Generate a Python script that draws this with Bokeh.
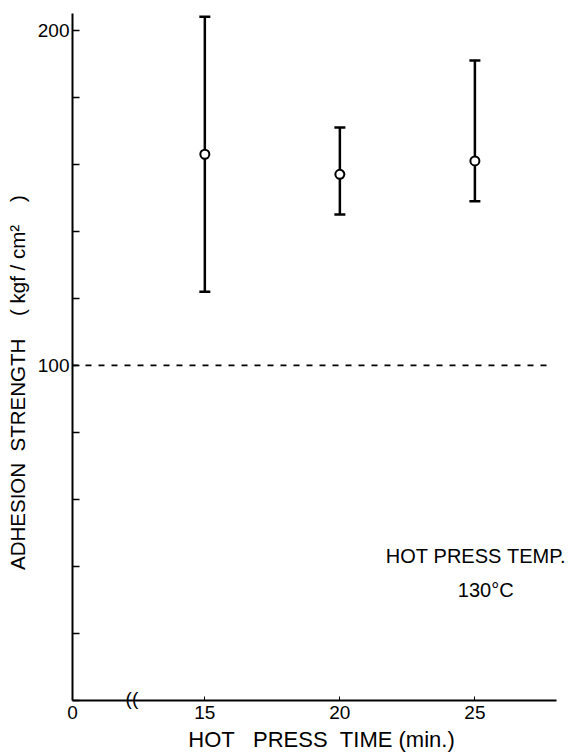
from bokeh.plotting import figure
from bokeh.models import (ColumnDataSource, Whisker, TeeHead, Label,
                          FixedTicker, Range1d, LinearAxis)
from bokeh.embed import file_html
from bokeh.resources import INLINE

# Adhesion strength vs. hot press time (mean with min/max range)
press_time = [15, 20, 25]
strength_mean = [163, 157, 161]
strength_upper = [204, 171, 191]
strength_lower = [122, 145, 149]

y_ticks = [0, 20, 40, 60, 80, 100, 120, 140, 160, 180, 200]
y_tick_labels = {100: "100", 200: "200"}
x_ticks = [15, 20, 25]
reference_level = 100

FONT = "Liberation Sans"
NB = "\u00a0"

x_start, x_end = 10.1, 28.54      # plotted x window (min)
x_axis_end = 28.04                # where the time axis line stops
x_break = 12.3                    # axis break mark position
dash_end = 27.7                   # end of the dashed 100 level line

p = figure(width=570, height=756,
           x_range=Range1d(x_start, x_end), y_range=Range1d(0, 205),
           output_backend="svg", toolbar_location=None,
           min_border_left=72, min_border_right=0,
           min_border_top=13, min_border_bottom=56)

p.outline_line_color = None
p.xgrid.visible = False
p.ygrid.visible = False
p.background_fill_color = "white"
p.border_fill_color = "white"

# y axis: ticks pointing inward, only 100 and 200 labelled
yax = p.yaxis[0]
yax.ticker = FixedTicker(ticks=y_ticks)
yax.major_label_overrides = {t: y_tick_labels.get(t, "") for t in y_ticks}
yax.minor_tick_line_color = None
yax.major_tick_in = 7
yax.major_tick_out = 0
yax.major_tick_line_width = 1.5
yax.axis_line_width = 2
yax.axis_line_color = "black"
yax.major_label_standoff = 3
yax.major_label_text_font = FONT
yax.major_label_text_font_size = "19px"
yax.major_label_text_color = "black"
yax.axis_label = ("ADHESION" + NB * 2 + "STRENGTH" + NB * 4 + "(" + NB +
                  "kgf" + NB + "/" + NB + "cm²" + NB * 4 + ")" + NB * 9)
yax.axis_label_text_font = FONT
yax.axis_label_text_font_size = "20.5px"
yax.axis_label_text_font_style = "normal"
yax.axis_label_text_color = "black"
yax.axis_label_standoff = 6

# x axis: origin shown as "0" at the corner, then 15 / 20 / 25 min
xax = p.xaxis[0]
xax.bounds = (x_start, x_axis_end)
xax.ticker = FixedTicker(ticks=[x_start] + x_ticks)
xax.major_label_overrides = {x_start: "0"}
xax.minor_tick_line_color = None
xax.major_tick_in = 4
xax.major_tick_out = 0
xax.axis_line_width = 2
xax.axis_line_color = "black"
xax.major_label_standoff = 5
xax.major_label_text_font = FONT
xax.major_label_text_font_size = "19px"
xax.major_label_text_color = "black"
xax.axis_label = "HOT" + NB * 3 + "PRESS" + NB * 2 + "TIME" + NB + "(min.)"
xax.axis_label_text_font = FONT
xax.axis_label_text_font_size = "22px"
xax.axis_label_text_font_style = "normal"
xax.axis_label_text_color = "black"
xax.axis_label_standoff = 5

# axis break mark "((" drawn back up onto the time axis line
brk = LinearAxis(ticker=FixedTicker(ticks=[x_break]),
                 major_label_overrides={x_break: "(("},
                 axis_line_color=None, major_tick_line_color=None,
                 minor_tick_line_color=None, major_tick_in=0, major_tick_out=0,
                 major_label_standoff=-67,
                 major_label_text_font=FONT, major_label_text_font_size="19px",
                 major_label_text_color="black")
if hasattr(brk, "major_label_background_fill_color"):
    brk.major_label_background_fill_color = "white"
p.add_layout(brk, "below")

# dashed 100 kgf/cm² level
p.line(x=[x_start, dash_end], y=[reference_level, reference_level],
       line_color="black", line_width=1.6, line_dash="6 7")

# error bars and mean markers
src = ColumnDataSource(dict(x=press_time, mean=strength_mean,
                            upper=strength_upper, lower=strength_lower))
whisk = Whisker(base="x", upper="upper", lower="lower", source=src,
                line_color="black", line_width=2.5,
                upper_head=TeeHead(size=11, line_width=2.5, line_color="black"),
                lower_head=TeeHead(size=11, line_width=2.5, line_color="black"),
                level="underlay")
p.add_layout(whisk)
p.scatter("x", "mean", source=src, marker="circle", size=9,
          fill_color="white", line_color="black", line_width=2)

# condition note
p.add_layout(Label(x=21.7, y=43, text="HOT" + NB + "PRESS" + NB + "TEMP.",
                   text_align="left", text_baseline="middle",
                   text_font=FONT, text_font_size="20px", text_color="black"))
p.add_layout(Label(x=25.4, y=33, text="130°C",
                   text_align="center", text_baseline="middle",
                   text_font=FONT, text_font_size="20px", text_color="black"))

open("out.html", "w").write(file_html(p, INLINE))
